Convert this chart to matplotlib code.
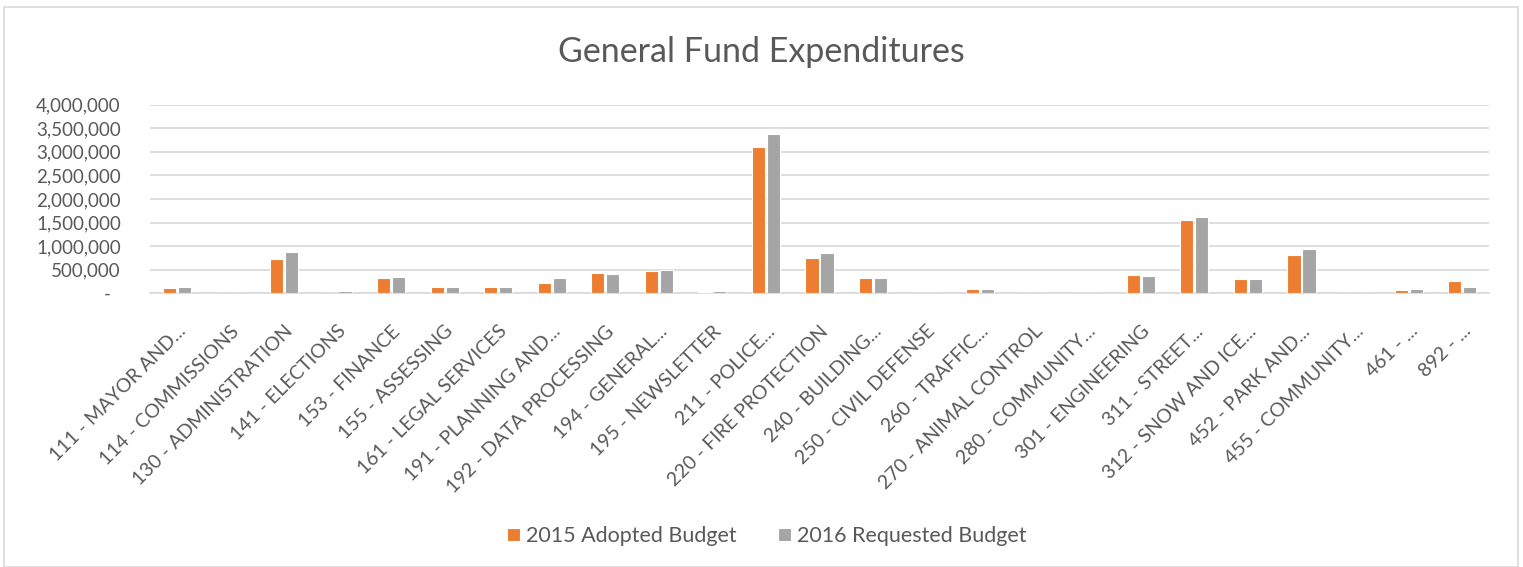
import numpy as np
import matplotlib
matplotlib.use('Agg')
import matplotlib.pyplot as plt
from matplotlib.ticker import FuncFormatter
from matplotlib.patches import Rectangle

plt.rcParams['font.family'] = ['Lato', 'DejaVu Sans']

departments = ['111 - MAYOR AND...', '114 - COMMISSIONS', '130 - ADMINISTRATION',
               '141 - ELECTIONS', '153 - FINANCE', '155 - ASSESSING',
               '161 - LEGAL SERVICES', '191 - PLANNING AND...', '192 - DATA PROCESSING',
               '194 - GENERAL...', '195 - NEWSLETTER', '211 - POLICE...',
               '220 - FIRE PROTECTION', '240 - BUILDING...', '250 - CIVIL DEFENSE',
               '260 - TRAFFIC...', '270 - ANIMAL CONTROL', '280 - COMMUNITY...',
               '301 - ENGINEERING', '311 - STREET...', '312 - SNOW AND ICE...',
               '452 - PARK AND...', '455 - COMMUNITY...', '461 - ...', '892 - ...']
adopted_2015 = [113000, 0, 721000, 0, 332000, 127000, 127000, 226000, 424000,
                466000, 35000, 3110000, 749000, 325000, 0, 99000, 0, 0,
                389000, 1562000, 304000, 820000, 0, 71000, 254000]
requested_2016 = [127000, 0, 869000, 50000, 346000, 127000, 127000, 325000, 410000,
                  488000, 50000, 3378000, 848000, 325000, 0, 92000, 0, 0,
                  375000, 1611000, 311000, 933000, 0, 85000, 141000]

orange = '#ED7D31'
grey = '#A5A5A5'
text_col = '#595959'
grid_col = '#D9D9D9'

W, H = 1523, 567
fig = plt.figure(figsize=(W / 100, H / 100), dpi=100)

# chart border
fig.patches.append(Rectangle((4 / W, 0), 1514 / W, 1 - 7 / H, transform=fig.transFigure,
                             fill=False, edgecolor=grid_col, linewidth=1.2))

ax = fig.add_axes([150 / W, 1 - 293.3 / H, 1339 / W, 188.6 / H])
x = np.arange(len(departments))
bw = 0.245
ax.bar(x - 0.14, adopted_2015, bw, color=orange, edgecolor='white', linewidth=0.8,
       label='2015 Adopted Budget', zorder=3)
ax.bar(x + 0.14, requested_2016, bw, color=grey, edgecolor='white', linewidth=0.8,
       label='2016 Requested Budget', zorder=3)

ax.set_xlim(-0.5, len(departments) - 0.5)
ax.set_ylim(0, 4000000)
ax.set_yticks(np.arange(0, 4000001, 500000))
# accounting style: zero shown as a dash
ax.yaxis.set_major_formatter(FuncFormatter(lambda v, p: f'{v:,.0f}' if v else '-  '))
ax.grid(axis='y', color=grid_col, linewidth=1.2, zorder=0)
for s in ['top', 'right', 'left']:
    ax.spines[s].set_visible(False)
ax.spines['bottom'].set_color(grid_col)
ax.spines['bottom'].set_linewidth(1.2)
ax.tick_params(axis='y', length=0, pad=21, labelsize=13.5, labelcolor=text_col)
ax.tick_params(axis='x', length=0, pad=21, labelsize=14, labelcolor=text_col)
ax.set_xticks(x)
ax.set_xticklabels(departments, rotation=45, ha='right', rotation_mode='anchor')

fig.text(0.5, 1 - 52 / H, 'General Fund Expenditures', ha='center', va='center',
         fontsize=24.5, color=text_col)

fig.legend(loc='center', bbox_to_anchor=(767 / W, 1 - 536 / H), ncol=2, frameon=False,
           fontsize=15.5, labelcolor=text_col, handlelength=0.6, handleheight=0.6,
           handletextpad=0.3, columnspacing=1.9)

fig.savefig('out.png', dpi=100)
